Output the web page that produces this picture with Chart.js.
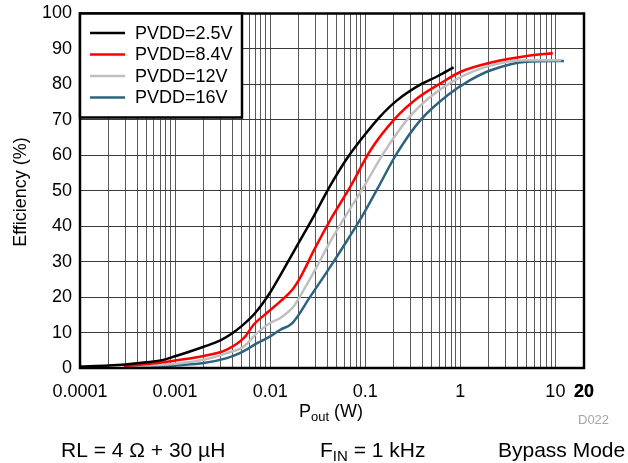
<!DOCTYPE html>
<html>
<head>
<meta charset="utf-8">
<script src="https://cdn.jsdelivr.net/npm/chart.js@4/dist/chart.umd.min.js"></script>
<style>
html,body{margin:0;padding:0;background:#fff;}
#wrap{width:628px;height:463px;position:relative;}
</style>
</head>
<body>
<div id="wrap"><canvas id="c" width="628" height="463"></canvas></div>
<script>
// ---- Data ----
const seriesNames = ['PVDD=2.5V', 'PVDD=8.4V', 'PVDD=12V', 'PVDD=16V'];
const seriesColors = ['#000000', '#ff0000', '#bfbfbf', '#2d637f'];

const pvdd25Power = [0.0001,0.0002,0.0003,0.0005,0.00075,0.001,0.002,0.003,0.004,0.005,0.007,0.01,0.013,0.019,0.029,0.043,0.065,0.097,0.144,0.216,0.383,0.575,0.85];
const pvdd25Eff   = [0.4,0.7,1.0,1.6,2.3,3.3,6.0,7.8,9.8,11.8,15.6,21.3,26.5,34.3,43.0,51.5,59.3,65.5,71.0,75.5,80.0,82.3,84.8];

const pvdd84Power = [0.00029,0.0005,0.00075,0.001,0.002,0.0035,0.0053,0.0067,0.0092,0.0128,0.017,0.021,0.029,0.043,0.07,0.114,0.2,0.35,0.62,1.0,2.06,5.0,9.4];
const pvdd84Eff   = [0.5,1.1,1.6,2.1,3.4,5.2,8.5,12.2,15.5,18.8,22.0,25.8,33.3,41.8,51.2,61.5,70.0,76.0,80.3,83.5,86.1,88.0,88.8];

const pvdd12Power = [0.00035,0.00075,0.001,0.002,0.0035,0.0053,0.0073,0.01,0.0128,0.0177,0.0225,0.031,0.043,0.065,0.097,0.156,0.275,0.485,0.95,2.06,5.0,11.5];
const pvdd12Eff   = [0.4,0.9,1.2,2.3,4.2,6.1,9.9,12.7,14.1,17.4,22.0,28.6,35.7,43.7,51.2,60.6,70.0,76.5,81.7,85.3,86.8,86.8];

const pvdd16Power = [0.0004,0.00075,0.001,0.002,0.0035,0.0048,0.0073,0.01,0.0128,0.017,0.0265,0.043,0.065,0.097,0.134,0.216,0.383,0.74,1.27,2.1,5.0,12.3];
const pvdd16Eff   = [0.2,0.4,0.7,1.4,2.8,4.2,7.0,8.9,10.8,12.6,20.2,28.6,36.1,43.7,50.5,60.6,70.0,77.0,81.2,84.0,86.4,86.6];

const xTickValues = [0.0001, 0.001, 0.01, 0.1, 1, 10, 20];
const xTickLabels = ['0.0001', '0.001', '0.01', '0.1', '1', '10', '20'];
const yTickValues = [0,10,20,30,40,50,60,70,80,90,100];

// ---- Build ----
function pts(xs, ys){ return xs.map((x,i)=>({x:x, y:ys[i]})); }
const seriesData = [
  pts(pvdd25Power, pvdd25Eff),
  pts(pvdd84Power, pvdd84Eff),
  pts(pvdd12Power, pvdd12Eff),
  pts(pvdd16Power, pvdd16Eff)
];

const xGrid = [];
[0.0001,0.001,0.01,0.1,1,10].forEach(d=>{
  for(let m=1;m<=9;m++){
    const v = parseFloat((m*d).toPrecision(6));
    if (v <= 20) xGrid.push(v);
  }
});
xGrid.push(20);

function labelFor(v){
  for(let i=0;i<xTickValues.length;i++){
    if(Math.abs(v-xTickValues[i]) <= xTickValues[i]*1e-6) return xTickLabels[i];
  }
  return '';
}

const FONT = "'Liberation Sans', Arial, sans-serif";

const decorPlugin = {
  id: 'decor',
  afterDatasetsDraw(chart){
    const ctx = chart.ctx;
    const a = chart.chartArea;
    ctx.save();
    // plot frame
    ctx.strokeStyle = '#000';
    ctx.lineWidth = 2.5;
    ctx.strokeRect(a.left, a.top, a.right - a.left, a.bottom - a.top);
    // legend box
    const lx = a.left, ly = a.top, lw = 162, lh = 104;
    ctx.fillStyle = '#fff';
    ctx.fillRect(lx, ly, lw, lh);
    ctx.strokeRect(lx, ly, lw, lh);
    ctx.font = '18px ' + FONT;
    ctx.textBaseline = 'middle';
    ctx.textAlign = 'left';
    seriesNames.forEach((n,i)=>{
      const yy = ly + 19.5 + i*21.5;
      ctx.strokeStyle = seriesColors[i];
      ctx.lineWidth = 2.5;
      ctx.beginPath();
      ctx.moveTo(lx + 10, yy);
      ctx.lineTo(lx + 45, yy);
      ctx.stroke();
      ctx.fillStyle = '#000';
      ctx.fillText(n, lx + 55, yy + 1);
    });
    ctx.restore();
  },
  afterDraw(chart){
    const ctx = chart.ctx;
    ctx.save();
    ctx.fillStyle = '#000';
    ctx.textBaseline = 'alphabetic';
    // Y title
    ctx.save();
    ctx.translate(26, 192);
    ctx.rotate(-Math.PI/2);
    ctx.textAlign = 'center';
    ctx.font = '18px ' + FONT;
    ctx.fillText('Efficiency (%)', 0, 0);
    ctx.restore();
    // X title with subscript
    const big = '18px ' + FONT, small = '13px ' + FONT;
    ctx.textAlign = 'left';
    ctx.font = big; const wP = ctx.measureText('P').width;
    ctx.font = small; const wSub = ctx.measureText('out').width;
    ctx.font = big; const wRest = ctx.measureText(' (W)').width;
    let x0 = 331 - (wP + wSub + wRest)/2;
    const by = 417;
    ctx.font = big; ctx.fillText('P', x0, by);
    ctx.font = small; ctx.fillText('out', x0 + wP, by + 4);
    ctx.font = big; ctx.fillText(' (W)', x0 + wP + wSub, by);
    // D022
    ctx.fillStyle = '#a6a6a6';
    ctx.font = '13px ' + FONT;
    ctx.fillText('D022', 578, 424);
    // bottom texts
    ctx.fillStyle = '#000';
    const bf = '21px ' + FONT, bs = '15px ' + FONT;
    const by2 = 456.5;
    ctx.font = bf;
    ctx.fillText('RL = 4 \u03A9 + 30 \u00B5H', 61, by2);
    let fx = 320;
    ctx.fillText('F', fx, by2);
    fx += ctx.measureText('F').width;
    ctx.font = bs;
    ctx.fillText('IN', fx, by2 + 4);
    fx += ctx.measureText('IN').width;
    ctx.font = bf;
    ctx.fillText(' = 1 kHz', fx, by2);
    ctx.fillText('Bypass Mode', 498, by2);
    ctx.restore();
  }
};

new Chart(document.getElementById('c'), {
  type: 'line',
  data: {
    datasets: seriesData.map((d,i)=>({
      label: seriesNames[i],
      data: d,
      borderColor: seriesColors[i],
      backgroundColor: seriesColors[i],
      borderWidth: 2.5,
      pointRadius: 0,
      cubicInterpolationMode: 'monotone',
      fill: false
    }))
  },
  options: {
    responsive: false,
    animation: false,
    devicePixelRatio: 1,
    layout: { padding: { left: 0, top: 13.5, right: 44, bottom: 0 } },
    plugins: { legend: { display: false }, tooltip: { enabled: false }, title: { display: false } },
    scales: {
      x: {
        type: 'logarithmic',
        min: 0.0001,
        max: 20,
        afterBuildTicks(axis){ axis.ticks = xGrid.map(v=>({value:v})); },
        afterFit(axis){ axis.height = 95; axis.paddingLeft = 0; axis.paddingRight = 0; },
        grid: { color: '#5a5a5a', lineWidth: 1, drawTicks: false },
        border: { display: false },
        ticks: {
          autoSkip: false, maxRotation: 0, minRotation: 0,
          padding: 13,
          color: '#000',
          font: (c) => ({ family: FONT, size: 18, weight: (c.tick && Math.abs(c.tick.value-20)<1e-9) ? 'bold' : 'normal' }),
          callback: (v) => labelFor(v)
        }
      },
      y: {
        type: 'linear',
        min: 0, max: 100,
        afterBuildTicks(axis){ axis.ticks = yTickValues.map(v=>({value:v})); },
        afterFit(axis){ axis.width = 80; axis.paddingTop = 0; axis.paddingBottom = 0; },
        grid: { color: '#3a3a3a', lineWidth: 1, drawTicks: false },
        border: { display: false },
        ticks: { padding: 8, color: '#000', font: { family: FONT, size: 18 } }
      }
    }
  },
  plugins: [decorPlugin]
});
</script>
</body>
</html>
